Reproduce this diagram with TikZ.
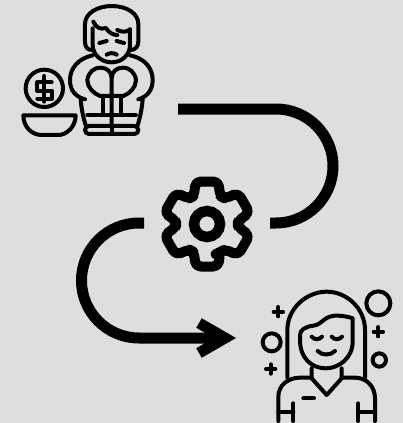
\documentclass[tikz,border=0pt]{standalone}
\usetikzlibrary{arrows.meta}
\definecolor{bgPage}{HTML}{DEDEDE}
\tikzset{
  iconline/.style={draw=black, line width=4pt, line cap=round, line join=round},
  flowline/.style={draw=black, line width=11pt},
  flowarrow/.style={flowline, -{Straight Barb[length=26pt, width=30pt]}},
  gearline/.style={draw=black, line width=10pt, line join=round, rounded corners=5pt},
}
\begin{document}
\begin{tikzpicture}[x=1pt, y=-1pt]
  \useasboundingbox[fill=bgPage] (0,0) rectangle (403,423);

  % === Free ends of the two flow lines ===
  \coordinate (startTop) at (178,109);
  \coordinate (endTop) at (270,223);
  \coordinate (startLow) at (144,223);
  \coordinate (endLow) at (236,338);

  % === Top left: sad person with coin and bowl ===
  \begin{scope}[shift={(10,0)}, scale=1/3]
    % hair and face
    \draw[iconline] (245,150) .. controls (232,150) and (225,140) .. (225,125) -- (225,72)
      .. controls (225,40) and (262,18) .. (305,18)
      .. controls (350,18) and (385,40) .. (385,72) -- (385,125)
      .. controls (385,140) and (375,150) .. (362,150);
    \draw[iconline] (248,85) -- (248,135) .. controls (248,165) and (275,187) .. (305,187)
      .. controls (335,187) and (360,165) .. (360,135) -- (360,88);
    \draw[iconline] (250,65) .. controls (258,82) and (270,90) .. (288,84)
      .. controls (296,98) and (310,105) .. (322,105);
    \draw[iconline] (322,90) .. controls (338,98) and (350,96) .. (360,88);
    \draw[iconline] (268,129) -- (290,123);
    \draw[iconline] (320,123) -- (342,129);
    \draw[iconline] (290,164) .. controls (298,158) and (312,158) .. (320,164);
    % body and knees
    \draw[iconline] (248,166) .. controls (205,175) and (180,205) .. (180,240)
      .. controls (180,270) and (195,290) .. (225,298);
    \draw[iconline] (360,166) .. controls (405,175) and (428,205) .. (428,240)
      .. controls (428,270) and (412,290) .. (385,298);
    \draw[iconline] (305,378) -- (305,235) .. controls (305,215) and (290,203) .. (272,203)
      .. controls (250,203) and (235,218) .. (232,240) .. controls (232,262) and (250,280) .. (270,288)
      -- (340,288) .. controls (360,280) and (378,262) .. (378,240)
      .. controls (375,218) and (360,203) .. (338,203) .. controls (320,203) and (305,215) .. (305,235);
    \draw[iconline] (280,288) -- (280,345);
    \draw[iconline] (332,288) -- (332,345);
    \draw[iconline] (212,298) .. controls (214,325) and (220,355) .. (228,378);
    \draw[iconline] (398,298) .. controls (396,325) and (390,355) .. (382,378);
    \draw[iconline] (232,345) -- (378,345);
    \draw[iconline, rounded corners=4pt] (225,378) rectangle (385,402);
    \draw[iconline] (305,378) -- (305,402);
    % coin and bowl
    \draw[iconline] (103,265) circle (56);
    \draw[iconline] (103,228) -- (103,305);
    \draw[iconline] (125,247) -- (82,247) -- (82,272) -- (125,272) -- (125,296) -- (82,296);
    \draw[iconline] (40,346) -- (197,346) .. controls (197,380) and (170,405) .. (145,405)
      -- (95,405) .. controls (65,405) and (40,380) .. (40,346) -- cycle;
  \end{scope}

  % === Centre: gear ===
  \begin{scope}[shift={(207,224)}]
    \draw[gearline] (66:31) foreach \a in {90,150,...,390} {
      -- (\a-25:31) -- (\a-15:44) -- (\a+15:44) -- (\a+25:31)} -- cycle;
    \draw[draw=black, line width=10.5pt] (0,0) circle (13);
  \end{scope}

  % === Bottom right: calm person with sparkles ===
  \begin{scope}[shift={(250,280)}, scale=1/3]
    % hair and face
    \draw[iconline] (112,293) -- (112,150) .. controls (112,85) and (170,35) .. (230,35)
      .. controls (290,35) and (345,85) .. (345,150) -- (345,293);
    \draw[iconline] (308,115) -- (308,185) .. controls (308,235) and (265,265) .. (228,265)
      .. controls (185,265) and (150,235) .. (150,180) -- (150,165)
      .. controls (150,150) and (165,140) .. (190,137)
      .. controls (220,133) and (220,105) .. (265,107) .. controls (285,108) and (300,112) .. (308,115);
    \draw[iconline] (185,170) .. controls (193,180) and (208,180) .. (216,170);
    \draw[iconline] (245,170) .. controls (253,180) and (268,180) .. (276,170);
    \draw[iconline] (203,213) .. controls (215,227) and (242,227) .. (255,213);
    % collar and shirt
    \draw[iconline] (185,265) -- (185,295) -- (230,345) -- (275,295) -- (275,265);
    \draw[iconline] (85,423) -- (85,350) .. controls (85,315) and (115,293) .. (150,293) -- (185,293);
    \draw[iconline] (275,293) -- (315,293) .. controls (350,293) and (375,320) .. (375,355) -- (375,423);
    \draw[iconline] (130,370) -- (130,423);
    \draw[iconline] (325,370) -- (325,423);
    \draw[iconline] (85,395) -- (130,395);
    \draw[iconline] (325,395) -- (375,395);
    \draw[iconline] (160,355) -- (192,355);
    % sparkles
    \draw[iconline] (385,70) circle (36);
    \draw[iconline] (65,187) circle (27);
    \draw[iconline] (388,240) circle (20);
    \foreach \px/\py in {85/95, 385/155, 62/267} {
      \draw[iconline] (\px-14,\py) -- (\px+14,\py);
      \draw[iconline] (\px,\py-14) -- (\px,\py+14);
    }
  \end{scope}

  % === Flow lines ===
  \draw[flowline] (startTop) -- (276,109) arc[start angle=-90, end angle=90, radius=57] -- (endTop);
  \draw[flowarrow] (startLow) -- (139,223) arc[start angle=-90, end angle=-270, radius=57.5] -- (endLow);

\end{tikzpicture}
\end{document}
